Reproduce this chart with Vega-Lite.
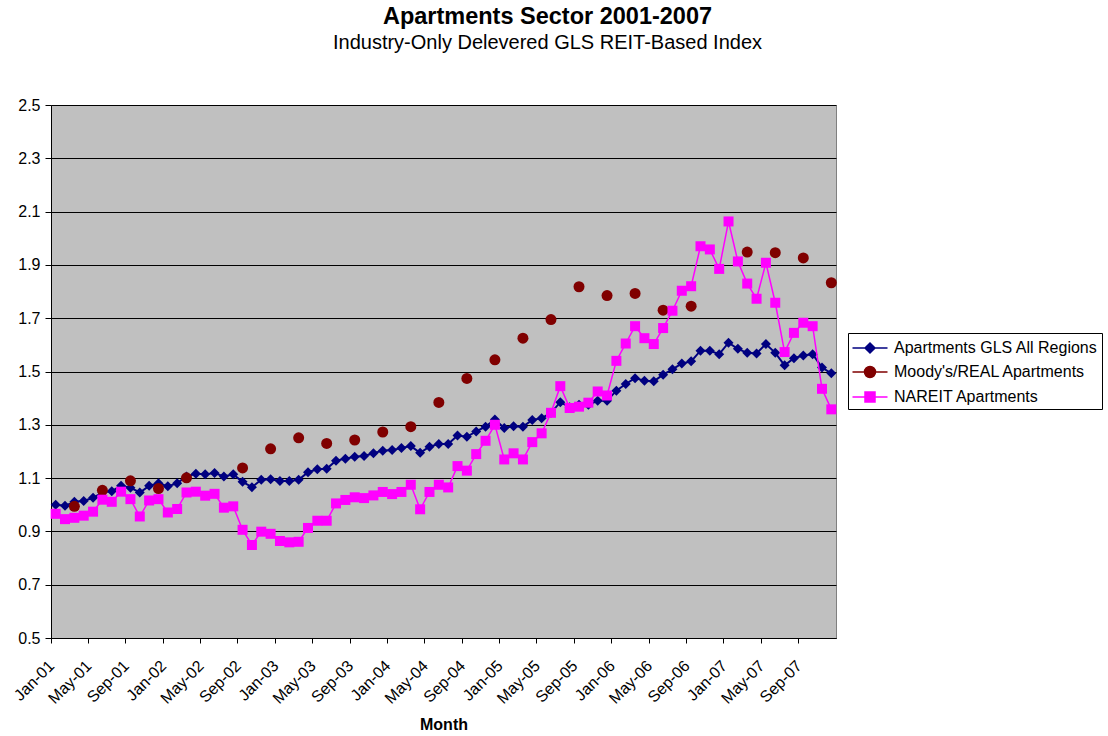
{
"$schema": "https://vega.github.io/schema/vega-lite/v6.json",
"width": 785, "height": 533,
"autosize": {"type": "none"},
"padding": {"left": 51, "top": 105, "right": 272, "bottom": 98},
"background": "white",
"config": {"font": "Liberation Sans", "view": {"fill": "#C0C0C0", "stroke": "#808080", "strokeWidth": 1}},
"title": {"text": "Apartments Sector 2001-2007", "subtitle": "Industry-Only Delevered GLS REIT-Based Index", "anchor": "middle", "frame": "group", "dx": 104, "offset": 44, "fontSize": 23.5, "fontWeight": "bold", "color": "black", "subtitleFontSize": 20, "subtitleColor": "black", "subtitlePadding": 5, "font": "Liberation Sans", "subtitleFont": "Liberation Sans"},
"data": {"values": [
{"m":"Jan-01","s":"Apartments GLS All Regions","v":1.000},{"m":"Feb-01","s":"Apartments GLS All Regions","v":0.996},{"m":"Mar-01","s":"Apartments GLS All Regions","v":1.011},{"m":"Apr-01","s":"Apartments GLS All Regions","v":1.014},{"m":"May-01","s":"Apartments GLS All Regions","v":1.026},{"m":"Jun-01","s":"Apartments GLS All Regions","v":1.046},{"m":"Jul-01","s":"Apartments GLS All Regions","v":1.051},{"m":"Aug-01","s":"Apartments GLS All Regions","v":1.071},{"m":"Sep-01","s":"Apartments GLS All Regions","v":1.064},{"m":"Oct-01","s":"Apartments GLS All Regions","v":1.046},{"m":"Nov-01","s":"Apartments GLS All Regions","v":1.071},{"m":"Dec-01","s":"Apartments GLS All Regions","v":1.081},
{"m":"Jan-02","s":"Apartments GLS All Regions","v":1.069},{"m":"Feb-02","s":"Apartments GLS All Regions","v":1.081},{"m":"Mar-02","s":"Apartments GLS All Regions","v":1.106},{"m":"Apr-02","s":"Apartments GLS All Regions","v":1.116},{"m":"May-02","s":"Apartments GLS All Regions","v":1.114},{"m":"Jun-02","s":"Apartments GLS All Regions","v":1.119},{"m":"Jul-02","s":"Apartments GLS All Regions","v":1.106},{"m":"Aug-02","s":"Apartments GLS All Regions","v":1.114},{"m":"Sep-02","s":"Apartments GLS All Regions","v":1.086},{"m":"Oct-02","s":"Apartments GLS All Regions","v":1.066},{"m":"Nov-02","s":"Apartments GLS All Regions","v":1.094},{"m":"Dec-02","s":"Apartments GLS All Regions","v":1.096},
{"m":"Jan-03","s":"Apartments GLS All Regions","v":1.089},{"m":"Feb-03","s":"Apartments GLS All Regions","v":1.089},{"m":"Mar-03","s":"Apartments GLS All Regions","v":1.094},{"m":"Apr-03","s":"Apartments GLS All Regions","v":1.122},{"m":"May-03","s":"Apartments GLS All Regions","v":1.133},{"m":"Jun-03","s":"Apartments GLS All Regions","v":1.135},{"m":"Jul-03","s":"Apartments GLS All Regions","v":1.165},{"m":"Aug-03","s":"Apartments GLS All Regions","v":1.173},{"m":"Sep-03","s":"Apartments GLS All Regions","v":1.180},{"m":"Oct-03","s":"Apartments GLS All Regions","v":1.183},{"m":"Nov-03","s":"Apartments GLS All Regions","v":1.193},{"m":"Dec-03","s":"Apartments GLS All Regions","v":1.203},
{"m":"Jan-04","s":"Apartments GLS All Regions","v":1.205},{"m":"Feb-04","s":"Apartments GLS All Regions","v":1.213},{"m":"Mar-04","s":"Apartments GLS All Regions","v":1.220},{"m":"Apr-04","s":"Apartments GLS All Regions","v":1.195},{"m":"May-04","s":"Apartments GLS All Regions","v":1.218},{"m":"Jun-04","s":"Apartments GLS All Regions","v":1.228},{"m":"Jul-04","s":"Apartments GLS All Regions","v":1.228},{"m":"Aug-04","s":"Apartments GLS All Regions","v":1.260},{"m":"Sep-04","s":"Apartments GLS All Regions","v":1.255},{"m":"Oct-04","s":"Apartments GLS All Regions","v":1.275},{"m":"Nov-04","s":"Apartments GLS All Regions","v":1.293},{"m":"Dec-04","s":"Apartments GLS All Regions","v":1.320},
{"m":"Jan-05","s":"Apartments GLS All Regions","v":1.288},{"m":"Feb-05","s":"Apartments GLS All Regions","v":1.295},{"m":"Mar-05","s":"Apartments GLS All Regions","v":1.293},{"m":"Apr-05","s":"Apartments GLS All Regions","v":1.318},{"m":"May-05","s":"Apartments GLS All Regions","v":1.325},{"m":"Jun-05","s":"Apartments GLS All Regions","v":1.345},{"m":"Jul-05","s":"Apartments GLS All Regions","v":1.385},{"m":"Aug-05","s":"Apartments GLS All Regions","v":1.366},{"m":"Sep-05","s":"Apartments GLS All Regions","v":1.375},{"m":"Oct-05","s":"Apartments GLS All Regions","v":1.375},{"m":"Nov-05","s":"Apartments GLS All Regions","v":1.390},{"m":"Dec-05","s":"Apartments GLS All Regions","v":1.390},
{"m":"Jan-06","s":"Apartments GLS All Regions","v":1.428},{"m":"Feb-06","s":"Apartments GLS All Regions","v":1.453},{"m":"Mar-06","s":"Apartments GLS All Regions","v":1.475},{"m":"Apr-06","s":"Apartments GLS All Regions","v":1.465},{"m":"May-06","s":"Apartments GLS All Regions","v":1.463},{"m":"Jun-06","s":"Apartments GLS All Regions","v":1.488},{"m":"Jul-06","s":"Apartments GLS All Regions","v":1.508},{"m":"Aug-06","s":"Apartments GLS All Regions","v":1.530},{"m":"Sep-06","s":"Apartments GLS All Regions","v":1.538},{"m":"Oct-06","s":"Apartments GLS All Regions","v":1.578},{"m":"Nov-06","s":"Apartments GLS All Regions","v":1.578},{"m":"Dec-06","s":"Apartments GLS All Regions","v":1.565},
{"m":"Jan-07","s":"Apartments GLS All Regions","v":1.608},{"m":"Feb-07","s":"Apartments GLS All Regions","v":1.585},{"m":"Mar-07","s":"Apartments GLS All Regions","v":1.570},{"m":"Apr-07","s":"Apartments GLS All Regions","v":1.568},{"m":"May-07","s":"Apartments GLS All Regions","v":1.603},{"m":"Jun-07","s":"Apartments GLS All Regions","v":1.570},{"m":"Jul-07","s":"Apartments GLS All Regions","v":1.523},{"m":"Aug-07","s":"Apartments GLS All Regions","v":1.550},{"m":"Sep-07","s":"Apartments GLS All Regions","v":1.560},{"m":"Oct-07","s":"Apartments GLS All Regions","v":1.565},{"m":"Nov-07","s":"Apartments GLS All Regions","v":1.515},{"m":"Dec-07","s":"Apartments GLS All Regions","v":1.493},
{"m":"Mar-01","s":"Moody's/REAL Apartments","v":0.994},{"m":"Jun-01","s":"Moody's/REAL Apartments","v":1.054},{"m":"Sep-01","s":"Moody's/REAL Apartments","v":1.090},{"m":"Dec-01","s":"Moody's/REAL Apartments","v":1.061},
{"m":"Mar-02","s":"Moody's/REAL Apartments","v":1.101},{"m":"Sep-02","s":"Moody's/REAL Apartments","v":1.138},{"m":"Dec-02","s":"Moody's/REAL Apartments","v":1.210},
{"m":"Mar-03","s":"Moody's/REAL Apartments","v":1.251},{"m":"Jun-03","s":"Moody's/REAL Apartments","v":1.230},{"m":"Sep-03","s":"Moody's/REAL Apartments","v":1.243},{"m":"Dec-03","s":"Moody's/REAL Apartments","v":1.273},
{"m":"Mar-04","s":"Moody's/REAL Apartments","v":1.293},{"m":"Jun-04","s":"Moody's/REAL Apartments","v":1.384},{"m":"Sep-04","s":"Moody's/REAL Apartments","v":1.474},{"m":"Dec-04","s":"Moody's/REAL Apartments","v":1.544},
{"m":"Mar-05","s":"Moody's/REAL Apartments","v":1.625},{"m":"Jun-05","s":"Moody's/REAL Apartments","v":1.695},{"m":"Sep-05","s":"Moody's/REAL Apartments","v":1.818},{"m":"Dec-05","s":"Moody's/REAL Apartments","v":1.785},
{"m":"Mar-06","s":"Moody's/REAL Apartments","v":1.793},{"m":"Jun-06","s":"Moody's/REAL Apartments","v":1.730},{"m":"Sep-06","s":"Moody's/REAL Apartments","v":1.745},
{"m":"Mar-07","s":"Moody's/REAL Apartments","v":1.948},{"m":"Jun-07","s":"Moody's/REAL Apartments","v":1.946},{"m":"Sep-07","s":"Moody's/REAL Apartments","v":1.926},{"m":"Dec-07","s":"Moody's/REAL Apartments","v":1.833},
{"m":"Jan-01","s":"NAREIT Apartments","v":0.966},{"m":"Feb-01","s":"NAREIT Apartments","v":0.946},{"m":"Mar-01","s":"NAREIT Apartments","v":0.951},{"m":"Apr-01","s":"NAREIT Apartments","v":0.959},{"m":"May-01","s":"NAREIT Apartments","v":0.974},{"m":"Jun-01","s":"NAREIT Apartments","v":1.019},{"m":"Jul-01","s":"NAREIT Apartments","v":1.011},{"m":"Aug-01","s":"NAREIT Apartments","v":1.049},{"m":"Sep-01","s":"NAREIT Apartments","v":1.021},{"m":"Oct-01","s":"NAREIT Apartments","v":0.956},{"m":"Nov-01","s":"NAREIT Apartments","v":1.016},{"m":"Dec-01","s":"NAREIT Apartments","v":1.021},
{"m":"Jan-02","s":"NAREIT Apartments","v":0.971},{"m":"Feb-02","s":"NAREIT Apartments","v":0.984},{"m":"Mar-02","s":"NAREIT Apartments","v":1.046},{"m":"Apr-02","s":"NAREIT Apartments","v":1.049},{"m":"May-02","s":"NAREIT Apartments","v":1.034},{"m":"Jun-02","s":"NAREIT Apartments","v":1.041},{"m":"Jul-02","s":"NAREIT Apartments","v":0.989},{"m":"Aug-02","s":"NAREIT Apartments","v":0.994},{"m":"Sep-02","s":"NAREIT Apartments","v":0.906},{"m":"Oct-02","s":"NAREIT Apartments","v":0.849},{"m":"Nov-02","s":"NAREIT Apartments","v":0.899},{"m":"Dec-02","s":"NAREIT Apartments","v":0.891},
{"m":"Jan-03","s":"NAREIT Apartments","v":0.864},{"m":"Feb-03","s":"NAREIT Apartments","v":0.859},{"m":"Mar-03","s":"NAREIT Apartments","v":0.861},{"m":"Apr-03","s":"NAREIT Apartments","v":0.913},{"m":"May-03","s":"NAREIT Apartments","v":0.940},{"m":"Jun-03","s":"NAREIT Apartments","v":0.940},{"m":"Jul-03","s":"NAREIT Apartments","v":1.005},{"m":"Aug-03","s":"NAREIT Apartments","v":1.018},{"m":"Sep-03","s":"NAREIT Apartments","v":1.028},{"m":"Oct-03","s":"NAREIT Apartments","v":1.025},{"m":"Nov-03","s":"NAREIT Apartments","v":1.035},{"m":"Dec-03","s":"NAREIT Apartments","v":1.048},
{"m":"Jan-04","s":"NAREIT Apartments","v":1.040},{"m":"Feb-04","s":"NAREIT Apartments","v":1.048},{"m":"Mar-04","s":"NAREIT Apartments","v":1.075},{"m":"Apr-04","s":"NAREIT Apartments","v":0.983},{"m":"May-04","s":"NAREIT Apartments","v":1.048},{"m":"Jun-04","s":"NAREIT Apartments","v":1.075},{"m":"Jul-04","s":"NAREIT Apartments","v":1.065},{"m":"Aug-04","s":"NAREIT Apartments","v":1.145},{"m":"Sep-04","s":"NAREIT Apartments","v":1.128},{"m":"Oct-04","s":"NAREIT Apartments","v":1.190},{"m":"Nov-04","s":"NAREIT Apartments","v":1.240},{"m":"Dec-04","s":"NAREIT Apartments","v":1.300},
{"m":"Jan-05","s":"NAREIT Apartments","v":1.170},{"m":"Feb-05","s":"NAREIT Apartments","v":1.193},{"m":"Mar-05","s":"NAREIT Apartments","v":1.170},{"m":"Apr-05","s":"NAREIT Apartments","v":1.235},{"m":"May-05","s":"NAREIT Apartments","v":1.268},{"m":"Jun-05","s":"NAREIT Apartments","v":1.345},{"m":"Jul-05","s":"NAREIT Apartments","v":1.445},{"m":"Aug-05","s":"NAREIT Apartments","v":1.363},{"m":"Sep-05","s":"NAREIT Apartments","v":1.368},{"m":"Oct-05","s":"NAREIT Apartments","v":1.383},{"m":"Nov-05","s":"NAREIT Apartments","v":1.425},{"m":"Dec-05","s":"NAREIT Apartments","v":1.410},
{"m":"Jan-06","s":"NAREIT Apartments","v":1.540},{"m":"Feb-06","s":"NAREIT Apartments","v":1.605},{"m":"Mar-06","s":"NAREIT Apartments","v":1.670},{"m":"Apr-06","s":"NAREIT Apartments","v":1.625},{"m":"May-06","s":"NAREIT Apartments","v":1.603},{"m":"Jun-06","s":"NAREIT Apartments","v":1.663},{"m":"Jul-06","s":"NAREIT Apartments","v":1.728},{"m":"Aug-06","s":"NAREIT Apartments","v":1.803},{"m":"Sep-06","s":"NAREIT Apartments","v":1.820},{"m":"Oct-06","s":"NAREIT Apartments","v":1.970},{"m":"Nov-06","s":"NAREIT Apartments","v":1.958},{"m":"Dec-06","s":"NAREIT Apartments","v":1.885},
{"m":"Jan-07","s":"NAREIT Apartments","v":2.063},{"m":"Feb-07","s":"NAREIT Apartments","v":1.913},{"m":"Mar-07","s":"NAREIT Apartments","v":1.830},{"m":"Apr-07","s":"NAREIT Apartments","v":1.773},{"m":"May-07","s":"NAREIT Apartments","v":1.908},{"m":"Jun-07","s":"NAREIT Apartments","v":1.758},{"m":"Jul-07","s":"NAREIT Apartments","v":1.573},{"m":"Aug-07","s":"NAREIT Apartments","v":1.645},{"m":"Sep-07","s":"NAREIT Apartments","v":1.683},{"m":"Oct-07","s":"NAREIT Apartments","v":1.670},{"m":"Nov-07","s":"NAREIT Apartments","v":1.435},{"m":"Dec-07","s":"NAREIT Apartments","v":1.358}
]},
"encoding": {
  "x": {"field": "m", "type": "ordinal", "sort": null,
    "scale": {"type": "band", "paddingInner": 0, "paddingOuter": 0,
      "domain": ["Jan-01","Feb-01","Mar-01","Apr-01","May-01","Jun-01","Jul-01","Aug-01","Sep-01","Oct-01","Nov-01","Dec-01","Jan-02","Feb-02","Mar-02","Apr-02","May-02","Jun-02","Jul-02","Aug-02","Sep-02","Oct-02","Nov-02","Dec-02","Jan-03","Feb-03","Mar-03","Apr-03","May-03","Jun-03","Jul-03","Aug-03","Sep-03","Oct-03","Nov-03","Dec-03","Jan-04","Feb-04","Mar-04","Apr-04","May-04","Jun-04","Jul-04","Aug-04","Sep-04","Oct-04","Nov-04","Dec-04","Jan-05","Feb-05","Mar-05","Apr-05","May-05","Jun-05","Jul-05","Aug-05","Sep-05","Oct-05","Nov-05","Dec-05","Jan-06","Feb-06","Mar-06","Apr-06","May-06","Jun-06","Jul-06","Aug-06","Sep-06","Oct-06","Nov-06","Dec-06","Jan-07","Feb-07","Mar-07","Apr-07","May-07","Jun-07","Jul-07","Aug-07","Sep-07","Oct-07","Nov-07","Dec-07"]},
    "axis": {"values": ["Jan-01","May-01","Sep-01","Jan-02","May-02","Sep-02","Jan-03","May-03","Sep-03","Jan-04","May-04","Sep-04","Jan-05","May-05","Sep-05","Jan-06","May-06","Sep-06","Jan-07","May-07","Sep-07"],
      "bandPosition": 0, "labelAngle": -45, "labelAlign": "right", "labelBaseline": "middle", "labelFontSize": 16, "labelColor": "black", "labelPadding": 20, "labelOffset": -4, "labelOverlap": false, "labelBound": false,
      "tickSize": 5, "tickColor": "black", "domainColor": "black", "grid": false,
      "title": "Month", "titleFontSize": 16, "titleFontWeight": "bold", "titleColor": "black", "titlePadding": 10}},
  "y": {"field": "v", "type": "quantitative",
    "scale": {"domain": [0.5, 2.5], "nice": false, "zero": false},
    "axis": {"values": [0.5, 0.7, 0.9, 1.1, 1.3, 1.5, 1.7, 1.9, 2.1, 2.3, 2.5], "format": ".1f", "labelFontSize": 16, "labelColor": "black", "labelPadding": 5, "tickSize": 6, "tickColor": "black", "domainColor": "black", "grid": true, "gridColor": "black", "gridOpacity": 1, "gridWidth": 1, "title": null}}
},
"layer": [
  {"transform": [{"filter": {"field": "s", "equal": "Apartments GLS All Regions"}}],
   "mark": {"type": "line", "strokeWidth": 2, "color": "#000080"},
   "encoding": {"detail": {"field": "s", "type": "nominal"}}},
  {"transform": [{"filter": {"field": "s", "equal": "Apartments GLS All Regions"}}],
   "mark": {"type": "point", "shape": "diamond", "filled": true, "size": 100, "opacity": 1, "color": "#000080"},
   "encoding": {}},
  {"transform": [{"filter": {"field": "s", "equal": "Moody's/REAL Apartments"}}],
   "mark": {"type": "point", "shape": "circle", "filled": true, "size": 121, "opacity": 1, "color": "#800000"},
   "encoding": {}},
  {"transform": [{"filter": {"field": "s", "equal": "NAREIT Apartments"}}],
   "mark": {"type": "line", "strokeWidth": 1.5, "color": "#FF00FF"},
   "encoding": {"detail": {"field": "s", "type": "nominal"}}},
  {"transform": [{"filter": {"field": "s", "equal": "NAREIT Apartments"}}],
   "mark": {"type": "point", "shape": "square", "filled": true, "size": 100, "opacity": 1, "color": "#FF00FF"},
   "encoding": {}},
  {"transform": [{"filter": {"field": "s", "equal": "legend only"}}],
   "mark": {"type": "point", "filled": true, "opacity": 1},
   "encoding": {
     "fill": {"field": "s", "type": "nominal", "scale": {"domain": ["Apartments GLS All Regions", "Moody's/REAL Apartments", "NAREIT Apartments"], "range": ["#000080", "#800000", "#FF00FF"]},
       "legend": {"title": null, "orient": "none", "legendX": 797, "legendY": 228, "direction": "vertical", "fillColor": "white", "strokeColor": "black", "padding": 4, "symbolSize": 400, "symbolStrokeWidth": 1.5, "symbolOffset": 7, "labelFontSize": 16, "labelColor": "black", "labelOffset": 13, "labelLimit": 400, "rowPadding": 5}},
     "stroke": {"field": "s", "type": "nominal", "scale": {"domain": ["Apartments GLS All Regions", "Moody's/REAL Apartments", "NAREIT Apartments"], "range": ["#000080", "#800000", "#FF00FF"]},
       "legend": {"title": null, "orient": "none", "legendX": 797, "legendY": 228, "direction": "vertical", "fillColor": "white", "strokeColor": "black", "padding": 4, "symbolSize": 400, "symbolStrokeWidth": 1.5, "symbolOffset": 7, "labelFontSize": 16, "labelColor": "black", "labelOffset": 13, "labelLimit": 400, "rowPadding": 5}},
     "shape": {"field": "s", "type": "nominal", "scale": {"domain": ["Apartments GLS All Regions", "Moody's/REAL Apartments", "NAREIT Apartments"], "range": ["M-1.75,0H1.75M-0.5,0L0,-0.5L0.5,0L0,0.5Z", "M-1.75,0H1.75M-0.55,0A0.55,0.55,0,1,1,0.55,0A0.55,0.55,0,1,1,-0.55,0Z", "M-1.75,0H1.75M-0.5,-0.5H0.5V0.5H-0.5Z"]},
       "legend": {"title": null, "orient": "none", "legendX": 797, "legendY": 228, "direction": "vertical", "fillColor": "white", "strokeColor": "black", "padding": 4, "symbolSize": 400, "symbolStrokeWidth": 1.5, "symbolOffset": 7, "labelFontSize": 16, "labelColor": "black", "labelOffset": 13, "labelLimit": 400, "rowPadding": 5}}
   }}
]
}
